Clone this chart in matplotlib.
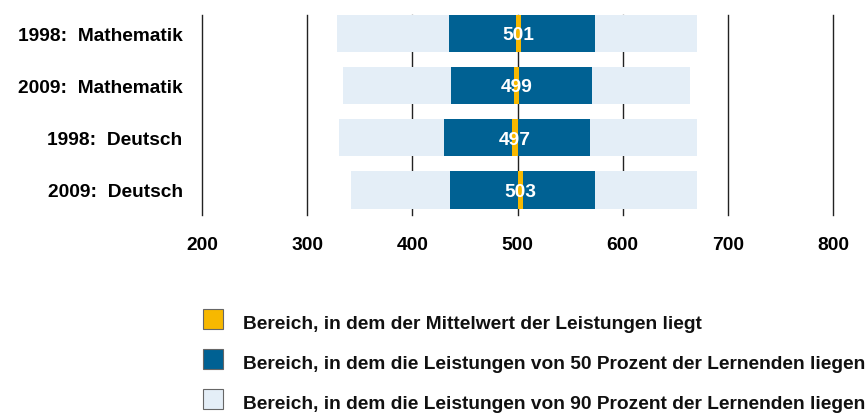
import matplotlib
matplotlib.use("Agg")
import matplotlib.pyplot as plt
from matplotlib.patches import Rectangle

plt.rcParams['font.family'] = ['Liberation Sans', 'DejaVu Sans']

categories = ["1998:  Mathematik", "2009:  Mathematik", "1998:  Deutsch", "2009:  Deutsch"]
means = [501, 499, 497, 503]
ci_low = [498.6, 496.6, 494.5, 500.6]
ci_high = [503.3, 501.3, 500.3, 505.2]
p25 = [435, 437, 430, 436]
p75 = [573.5, 570.5, 568.5, 573.5]
p05 = [328.5, 334, 330.5, 342]
p95 = [671, 664, 671, 671]
xticks = [200, 300, 400, 500, 600, 700, 800]
legend_labels = [
    "Bereich, in dem der Mittelwert der Leistungen liegt",
    "Bereich, in dem die Leistungen von 50 Prozent der Lernenden liegen",
    "Bereich, in dem die Leistungen von 90 Prozent der Lernenden liegen",
]

c_mean = "#F7B800"
c_50 = "#006193"
c_90 = "#E4EEF7"

FS = 13.8
W, H = 867, 414
fig = plt.figure(figsize=(W / 100, H / 100), dpi=100)
ax = fig.add_axes([202 / W, 1 - 216 / H, (833 - 202) / W, 200 / H])

ypos = list(range(len(categories)))
bh = 0.71
ax.barh(ypos, [b - a for a, b in zip(p05, p95)], left=p05, height=bh, color=c_90, zorder=2)
ax.barh(ypos, [b - a for a, b in zip(p25, p75)], left=p25, height=bh, color=c_50, zorder=3)
ax.barh(ypos, [b - a for a, b in zip(ci_low, ci_high)], left=ci_low, height=bh, color=c_mean, zorder=4)
for y, m in zip(ypos, means):
    ax.text(m, y + 0.03, str(m), ha="center", va="center", color="white",
            fontsize=FS, fontweight="bold", zorder=5)

for x in xticks:
    ax.axvline(x, color="#222222", lw=1.0, zorder=1, clip_on=False)

ax.set_xlim(200, 800)
ax.set_ylim(3.478, -0.344)
ax.set_xticks(xticks)
ax.set_xticklabels([str(x) for x in xticks], fontsize=FS, fontweight="bold")
ax.set_yticks(ypos)
ax.set_yticklabels(categories, fontsize=FS, fontweight="bold")
ax.tick_params(axis="both", length=0)
ax.tick_params(axis="x", pad=15)
ax.tick_params(axis="y", pad=14)
for s in ax.spines.values():
    s.set_visible(False)

# legend
colors = [c_mean, c_50, c_90]
tops = [309.5, 349.5, 390]
for col, top, lab in zip(colors, tops, legend_labels):
    fig.patches.append(Rectangle((202.5 / W, 1 - (top + 20) / H), 20 / W, 20 / H,
                                 transform=fig.transFigure, facecolor=col,
                                 edgecolor="#666666", lw=0.8))
    fig.text(243 / W, 1 - (top + 15) / H, lab, ha="left", va="center",
             fontsize=FS, fontweight="bold", color="#111111")

fig.savefig("out.png", dpi=100)
